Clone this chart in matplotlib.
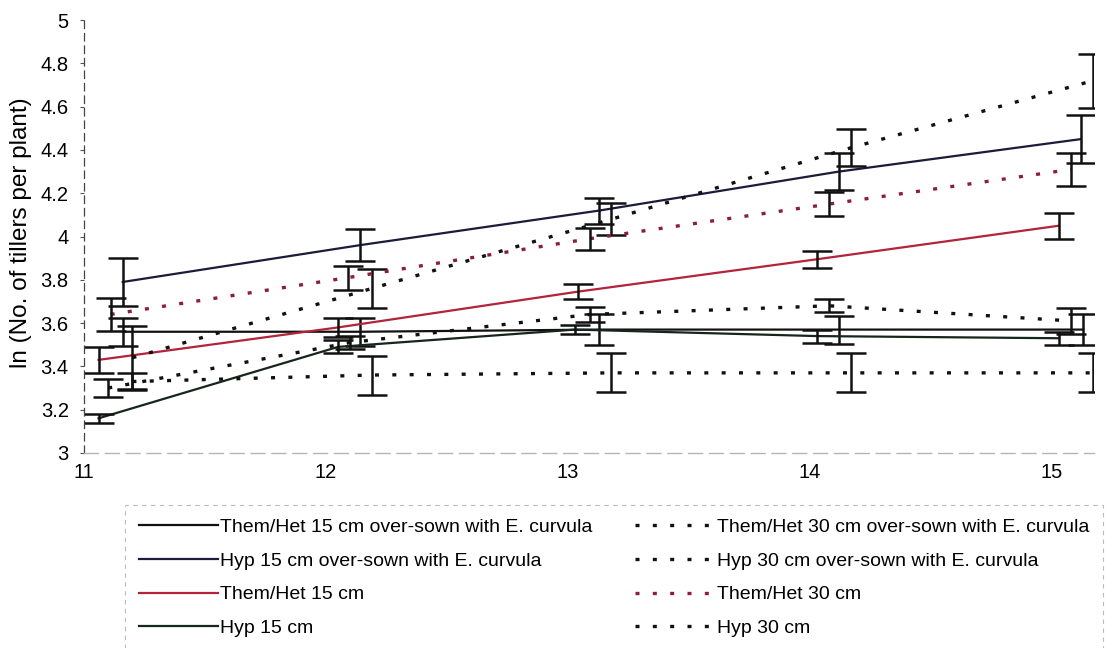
import matplotlib
matplotlib.use("Agg")
import matplotlib.pyplot as plt

plt.rcParams['font.family'] = ['Liberation Sans', 'DejaVu Sans']

# ln(tillers per plant) by week, one series per treatment
labels = [
    "Them/Het 15 cm over-sown with E. curvula",
    "Hyp 15 cm over-sown with E. curvula",
    "Them/Het 15 cm",
    "Hyp 15 cm",
    "Them/Het 30 cm over-sown with E. curvula",
    "Hyp 30 cm over-sown with E. curvula",
    "Them/Het 30 cm",
    "Hyp 30 cm",
]

x_them15_os = [11.16, 12.14, 13.13, 14.12, 15.13]
y_them15_os = [3.56, 3.56, 3.57, 3.57, 3.57]
e_them15_os = [0.065, 0.065, 0.07, 0.065, 0.07]

x_hyp15_os = [11.16, 12.14, 13.13, 14.12, 15.12]
y_hyp15_os = [3.79, 3.96, 4.12, 4.30, 4.45]
e_hyp15_os = [0.11, 0.075, 0.06, 0.085, 0.11]

x_them15 = [11.06, 12.05, 13.04, 14.03, 15.03]
y_them15 = [3.43, 3.58, 3.745, 3.895, 4.05]
e_them15 = [0.06, 0.045, 0.035, 0.04, 0.06]

x_hyp15 = [11.06, 12.05, 13.03, 14.03, 15.03]
y_hyp15 = [3.16, 3.49, 3.57, 3.54, 3.53]
e_hyp15 = [0.02, 0.03, 0.02, 0.03, 0.03]

x_them30_os = [11.10, 12.10, 13.09, 14.08, 15.08]
y_them30_os = [3.30, 3.51, 3.64, 3.68, 3.61]
e_them30_os = [0.04, 0.03, 0.035, 0.03, 0.06]

x_hyp30_os = [11.20, 12.19, 13.18, 14.17, 15.17]
y_hyp30_os = [3.44, 3.76, 4.08, 4.41, 4.72]
e_hyp30_os = [0.145, 0.09, 0.075, 0.085, 0.125]

x_them30 = [11.11, 12.09, 13.09, 14.08, 15.08]
y_them30 = [3.64, 3.81, 3.99, 4.15, 4.31]
e_them30 = [0.075, 0.055, 0.05, 0.055, 0.075]

x_hyp30 = [11.20, 12.19, 13.18, 14.17, 15.17]
y_hyp30 = [3.33, 3.36, 3.37, 3.37, 3.37]
e_hyp30 = [0.04, 0.09, 0.09, 0.09, 0.09]

week_ticks = [11, 12, 13, 14, 15]
y_ticks = [3, 3.2, 3.4, 3.6, 3.8, 4, 4.2, 4.4, 4.6, 4.8, 5]

DOTS = (0, (1.2, 4.0))
series = [
    (x_them15_os, y_them15_os, e_them15_os, '#111111', '-'),
    (x_hyp15_os, y_hyp15_os, e_hyp15_os, '#1c1c3a', '-'),
    (x_them15, y_them15, e_them15, '#b3243a', '-'),
    (x_hyp15, y_hyp15, e_hyp15, '#16261c', '-'),
    (x_them30_os, y_them30_os, e_them30_os, '#111111', DOTS),
    (x_hyp30_os, y_hyp30_os, e_hyp30_os, '#111111', DOTS),
    (x_them30, y_them30, e_them30, '#8a1f36', DOTS),
    (x_hyp30, y_hyp30, e_hyp30, '#111111', DOTS),
]

fig = plt.figure(figsize=(11.13, 6.48), dpi=100)
ax = fig.add_axes([0.0755, 0.301, 0.9075, 0.668])

handles = []
for (xs, ys, es, col, ls), lab in zip(series, labels):
    dotted = ls != '-'
    line, = ax.plot(xs, ys, color=col, linestyle=ls,
                    lw=2.4 if dotted else 1.6, label=lab)
    ax.errorbar(xs, ys, yerr=es, fmt='none', ecolor='#111111',
                elinewidth=1.8, capsize=10.5, capthick=1.8)
    handles.append(line)

ax.set_xlim(11, 15.175)
ax.set_ylim(3, 5)
ax.set_xticks(week_ticks)
ax.set_yticks(y_ticks)
ax.set_yticklabels([f"{v:g}" for v in y_ticks])
ax.tick_params(axis='x', length=0, labelsize=14.5, pad=7)
ax.tick_params(axis='y', length=3, width=0.8, labelsize=14.5, pad=8,
               color='#555555')
ax.set_ylabel("ln (No. of tillers per plant)", fontsize=17.5)
ax.yaxis.set_label_coords(-0.0515, 0.51)

for side in ('top', 'right'):
    ax.spines[side].set_visible(False)
ax.spines['left'].set_color('#444444')
ax.spines['left'].set_linewidth(0.9)
ax.spines['left'].set_linestyle((0, (6, 4)))
ax.spines['bottom'].set_color('#b5b5b5')
ax.spines['bottom'].set_linewidth(1.0)
ax.spines['bottom'].set_linestyle((0, (10, 5)))

leg = fig.legend(handles=handles, labels=labels, ncol=2,
                 loc='upper left', bbox_to_anchor=(0.1123, 0.2207),
                 borderaxespad=0, fontsize=14, frameon=True,
                 fancybox=False, handlelength=4.1, handletextpad=0.1,
                 columnspacing=2.2, labelspacing=0.82, borderpad=0.7)
frame = leg.get_frame()
frame.set_edgecolor('#aaaaaa')
frame.set_linewidth(0.8)
frame.set_linestyle((0, (4, 4)))

fig.savefig("out.png", dpi=100)
